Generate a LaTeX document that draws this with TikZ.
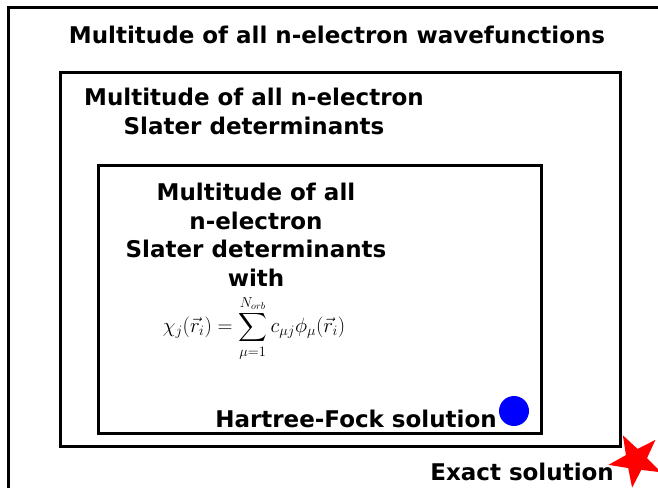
\documentclass[tikz,border=0pt]{standalone}
\usepackage{fontspec}
\setmainfont{DejaVu Sans}
\usepackage{amsmath,amssymb}
\usepackage{tikz}
\usetikzlibrary{shapes.geometric,positioning}

\begin{document}
\begin{tikzpicture}[
    x=1pt,y=-1pt,
    frame/.style={rectangle,draw=black,line width=3pt,inner sep=0pt},
    settext/.style={font=\fontsize{23}{28.5}\selectfont\bfseries,align=center,anchor=base,inner sep=0pt}
]
\useasboundingbox (0,0) rectangle (658,487);
\clip (0,0) rectangle (658,487);

% nested sets
\node[frame,minimum width=680pt,minimum height=510pt] (allwf) at (348,263) {};
\node[frame,minimum width=560pt,minimum height=374pt] (slater) at (340,259) {};
\node[frame,minimum width=443pt,minimum height=268pt] (basis) at (319.5,299) {};

\node[settext] (allwftext) at (337,44) {Multitude of all n-electron wavefunctions};
\node[settext] (slatertext) at (254,134) {Multitude of all n-electron\\Slater determinants};
\node[settext] (basistext) at (256,286) {Multitude of all\\n-electron\\Slater determinants\\with};
\node[font=\fontsize{20}{24}\selectfont,inner sep=0pt] (lcao) at (254,328)
    {$\displaystyle \chi_j(\vec{r}_i)=\sum_{\mu=1}^{N_{orb}} c_{\mu j}\phi_\mu(\vec{r}_i)$};

% solutions
\node[circle,fill=blue,minimum size=30pt,inner sep=0pt] (hfpoint) at (514,411) {};
\node[settext,anchor=base east] (hftext) at (497,427) {Hartree-Fock solution};
\node[star,star points=5,star point ratio=2.5,fill=red,minimum size=56pt,inner sep=0pt,rotate=28] (exactpoint) at (636,460) {};
\node[settext,anchor=base east] (exacttext) at (614,480) {Exact solution};

\end{tikzpicture}
\end{document}
